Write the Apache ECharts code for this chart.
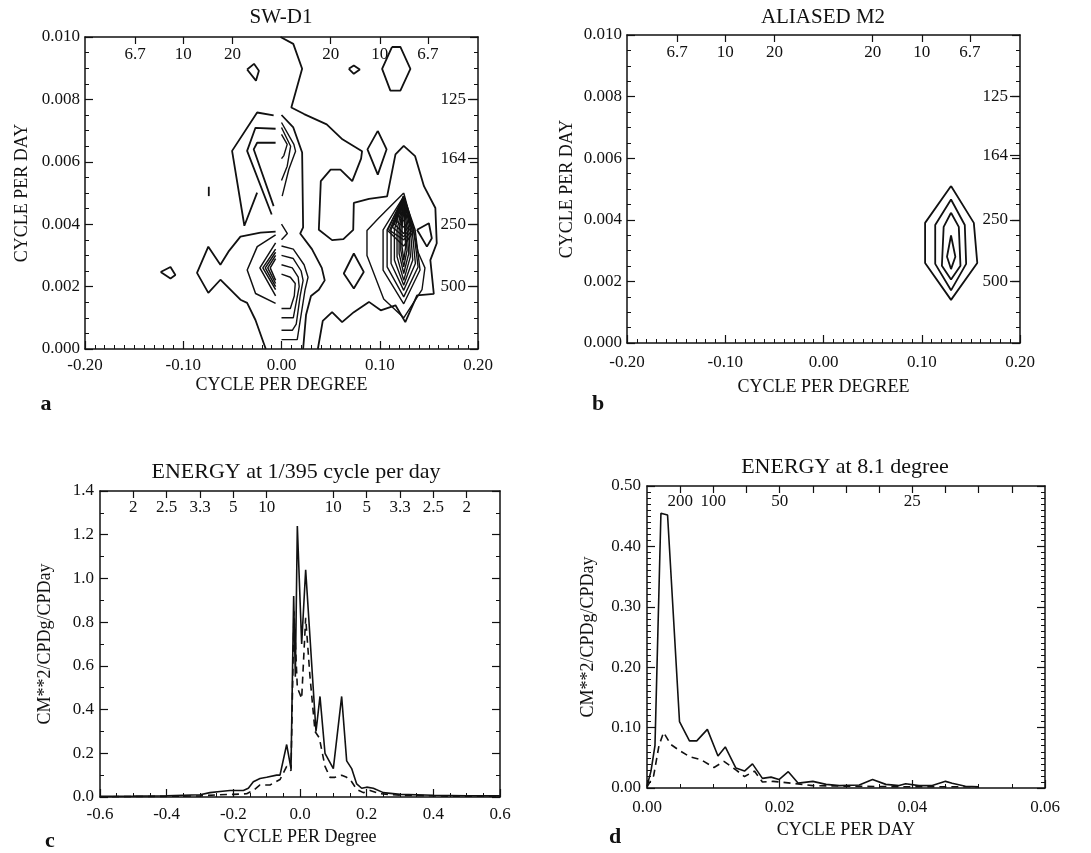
<!DOCTYPE html>
<html>
<head>
<meta charset="utf-8">
<title>SW-D1 / ALIASED M2 spectra</title>
<script src="https://cdn.jsdelivr.net/npm/echarts@6/dist/echarts.min.js"></script>
<style>
html, body { margin: 0; background: #fff; }
#main { width: 1091px; height: 853px; }
</style>
</head>
<body>
<div id="main"></div>
<script>
// ---- panel a (SW-D1) contour lines, [cycle/degree, cycle/day] ----
var swOuter = [
  [[-0.001,0.0100],[0.012,0.00978],[0.021,0.00898],[0.010,0.00774],[0.023,0.00753],[0.046,0.00720],[0.062,0.00672],[0.082,0.00634],[0.081,0.0061],[0.072,0.00538],[0.060,0.00575],[0.050,0.00575],[0.040,0.00538],[0.038,0.00382],[0.0515,0.00349],[0.063,0.00352],[0.073,0.00382],[0.0736,0.00468],[0.089,0.00481],[0.1075,0.00489],[0.116,0.00624],[0.1244,0.00651],[0.136,0.00618],[0.145,0.00522],[0.1566,0.00452],[0.158,0.00339],[0.1515,0.00285],[0.155,0.00177],[0.138,0.00172],[0.126,0.00086],[0.116,0.0014],[0.101,0.00124],[0.089,0.00151],[0.0736,0.00118],[0.0617,0.00086],[0.0515,0.00118],[0.042,0.0009],[0.037,0.0]],
  [[0.0,0.0075],[0.012,0.0071],[0.021,0.0063],[0.022,0.0039],[0.019,0.0037],[0.031,0.0032],[0.041,0.0026],[0.044,0.0022],[0.038,0.0019],[0.030,0.0017],[0.025,0.0011],[0.022,0.0]],
  [[-0.016,0.0],[-0.0265,0.00093],[-0.035,0.00148],[-0.0418,0.00158],[-0.0622,0.00222],[-0.0745,0.0018],[-0.086,0.00244],[-0.0745,0.00328],[-0.0622,0.0027],[-0.054,0.00312],[-0.0418,0.0036],[-0.0214,0.00373],[-0.006,0.00376]]
];
var swLeftUpper = [
  [[-0.008,0.00749],[-0.0248,0.00758],[-0.0503,0.00635],[-0.0378,0.00395],[-0.0248,0.00501]],
  [[-0.006,0.00706],[-0.0265,0.00709],[-0.035,0.00635],[-0.010,0.00431]],
  [[-0.006,0.00661],[-0.0248,0.00661],[-0.0283,0.0064],[-0.008,0.00458]],
  [[-0.074,0.0052],[-0.074,0.0049]]
];
var swLeftChevrons = [
  [[-0.006,0.00366],[-0.0247,0.00328],[-0.0349,0.00253],[-0.0264,0.00178],[-0.006,0.00146]],
  [[-0.006,0.0034],[-0.022,0.0026],[-0.006,0.0017]],
  [[-0.006,0.0032],[-0.019,0.0026],[-0.006,0.0019]],
  [[-0.006,0.0031],[-0.0165,0.0026],[-0.006,0.0020]],
  [[-0.006,0.0030],[-0.014,0.0026],[-0.006,0.0021]],
  [[-0.006,0.0029],[-0.0115,0.0026],[-0.006,0.0022]]
];
var swRightInner = [
  [[0,0.00726],[0.0126,0.00656],[0.0143,0.00634],[0.0075,0.00576],[0.0007,0.0049]],
  [[0,0.0071],[0.0093,0.0065],[0.0058,0.00586],[0,0.0054]],
  [[0,0.00688],[0.0058,0.00656],[0.0024,0.0062],[0,0.0061]],
  [[0,0.0040],[0.006,0.0037],[0,0.0035]],
  [[0,0.0033],[0.012,0.0032],[0.023,0.0027],[0.027,0.0023],[0.024,0.0019],[0.019,0.0009],[0.016,0.0003],[0,0.0003]],
  [[0,0.0030],[0.012,0.0029],[0.020,0.0025],[0.022,0.0022],[0.019,0.0017],[0.015,0.0008],[0.011,0.0006],[0,0.0006]],
  [[0,0.0027],[0.011,0.0026],[0.017,0.0023],[0.018,0.0020],[0.015,0.0015],[0.012,0.0010],[0,0.0010]],
  [[0,0.0024],[0.009,0.0023],[0.014,0.0021],[0.013,0.0017],[0.009,0.0013],[0,0.0013]]
];
var swIslands = [
  [[0.098,0.00699],[0.0875,0.0064],[0.098,0.00559],[0.107,0.0064],[0.098,0.00699]],
  [[0.1125,0.00968],[0.121,0.00968],[0.1312,0.00898],[0.121,0.00828],[0.1108,0.00828],[0.1024,0.00898],[0.1125,0.00968]],
  [[0.0685,0.00898],[0.0736,0.00909],[0.0797,0.00896],[0.0736,0.00882],[0.0685,0.00898]],
  [[-0.035,0.00896],[-0.028,0.00914],[-0.023,0.00892],[-0.026,0.0086],[-0.035,0.00896]],
  [[-0.123,0.00247],[-0.113,0.00263],[-0.108,0.00237],[-0.113,0.00226],[-0.123,0.00247]],
  [[0.0736,0.00306],[0.0634,0.00242],[0.0736,0.00194],[0.0837,0.00247],[0.0736,0.00306]],
  [[0.138,0.00382],[0.150,0.00403],[0.153,0.00355],[0.148,0.00328],[0.138,0.00382]]
];
var swPeak = [
  [[0.1244,0.0050],[0.099,0.0042],[0.087,0.0038],[0.087,0.0030],[0.104,0.0016],[0.1244,0.0010],[0.143,0.0019],[0.146,0.0026],[0.139,0.0031],[0.133,0.0040],[0.1244,0.0050]],
  [[0.1244,0.00489],[0.1034,0.00382],[0.1034,0.00253],[0.1244,0.00145],[0.1410,0.00253],[0.1360,0.00382],[0.1244,0.00489]],
  [[0.1244,0.00487],[0.1075,0.00382],[0.1075,0.00263],[0.1244,0.00167],[0.1390,0.00263],[0.1345,0.00382],[0.1244,0.00487]],
  [[0.1244,0.00485],[0.1115,0.00382],[0.1115,0.00274],[0.1244,0.00188],[0.1363,0.00274],[0.1329,0.00382],[0.1244,0.00485]],
  [[0.1244,0.00483],[0.1149,0.00382],[0.1149,0.00285],[0.1244,0.00204],[0.1336,0.00285],[0.1312,0.00382],[0.1244,0.00483]],
  [[0.1244,0.00481],[0.1176,0.00382],[0.1176,0.00296],[0.1244,0.0022],[0.1312,0.00296],[0.1295,0.00382],[0.1244,0.00481]],
  [[0.1244,0.00479],[0.1197,0.00382],[0.1197,0.00306],[0.1244,0.00242],[0.1295,0.00306],[0.1278,0.00382],[0.1244,0.00479]],
  [[0.1244,0.00477],[0.1214,0.00382],[0.1214,0.00317],[0.1244,0.00263],[0.1278,0.00317],[0.1261,0.00382],[0.1244,0.00477]],
  [[0.1244,0.00475],[0.1227,0.00382],[0.1227,0.00328],[0.1244,0.00285],[0.1264,0.00328],[0.1254,0.00382],[0.1244,0.00475]],
  [[0.1244,0.0049],[0.108,0.0038],[0.1244,0.0033],[0.135,0.0038],[0.1244,0.0049]],
  [[0.1244,0.0049],[0.110,0.0038],[0.1244,0.0035],[0.133,0.0038],[0.1244,0.0049]],
  [[0.1244,0.0049],[0.113,0.0039],[0.1244,0.0036],[0.132,0.0039],[0.1244,0.0049]],
  [[0.1244,0.0049],[0.115,0.0040],[0.1244,0.0037],[0.131,0.0040],[0.1244,0.0049]],
  [[0.1244,0.0049],[0.117,0.0041],[0.1244,0.0039],[0.130,0.0041],[0.1244,0.0049]],
  [[0.1244,0.0049],[0.119,0.0043],[0.1244,0.0041],[0.129,0.0043],[0.1244,0.0049]],
  [[0.1244,0.0049],[0.121,0.0044],[0.1244,0.0043],[0.127,0.0044],[0.1244,0.0049]]
];

// ---- panel b (ALIASED M2) ----
var m2Contours = [
  [[0.1298,0.0051],[0.1034,0.0039],[0.1034,0.0026],[0.1298,0.0014],[0.1565,0.0026],[0.153,0.0039],[0.1298,0.0051]],
  [[0.1298,0.00466],[0.1137,0.00383],[0.1137,0.00257],[0.1298,0.00171],[0.1452,0.00257],[0.1438,0.00383],[0.1298,0.00466]],
  [[0.1298,0.00423],[0.1223,0.00377],[0.1205,0.00251],[0.1298,0.00206],[0.1394,0.00251],[0.1377,0.00377],[0.1298,0.00423]],
  [[0.1298,0.00349],[0.1257,0.0028],[0.1298,0.0024],[0.1342,0.0028],[0.1298,0.00349]]
];

// ---- panel c: energy at 1/395 cpd, [cycle/degree, value] ----
var energyDegSolid = [[-0.60,0.003],[-0.50,0.004],[-0.40,0.006],[-0.30,0.01],[-0.27,0.02],[-0.24,0.025],[-0.21,0.03],[-0.17,0.03],[-0.155,0.04],[-0.14,0.07],[-0.12,0.085],[-0.10,0.09],[-0.07,0.10],[-0.06,0.10],[-0.04,0.24],[-0.027,0.13],[-0.019,0.92],[-0.014,0.55],[-0.008,1.24],[0.005,0.70],[0.017,1.04],[0.048,0.30],[0.06,0.46],[0.075,0.20],[0.10,0.13],[0.125,0.46],[0.14,0.165],[0.155,0.13],[0.17,0.06],[0.185,0.04],[0.20,0.045],[0.22,0.04],[0.25,0.02],[0.30,0.012],[0.40,0.008],[0.50,0.006],[0.60,0.005]];
var energyDegDashed = [[-0.60,0.001],[-0.40,0.003],[-0.30,0.005],[-0.25,0.01],[-0.20,0.012],[-0.16,0.015],[-0.14,0.03],[-0.12,0.055],[-0.09,0.055],[-0.06,0.08],[-0.04,0.14],[-0.027,0.12],[-0.018,0.85],[-0.008,0.50],[0.005,0.45],[0.017,0.82],[0.03,0.55],[0.045,0.30],[0.058,0.27],[0.075,0.14],[0.09,0.09],[0.105,0.09],[0.125,0.10],[0.14,0.09],[0.155,0.07],[0.17,0.035],[0.19,0.02],[0.21,0.03],[0.24,0.015],[0.30,0.008],[0.45,0.004],[0.60,0.003]];

// ---- panel d: energy at 8.1 degree, [cycle/day, value] ----
var energyDaySolid = [[0,0.003],[0.0006,0.028],[0.0012,0.07],[0.0021,0.455],[0.0031,0.452],[0.0049,0.11],[0.0064,0.078],[0.0075,0.078],[0.0091,0.097],[0.0107,0.053],[0.0118,0.068],[0.0134,0.033],[0.0147,0.028],[0.0159,0.04],[0.0174,0.016],[0.0187,0.018],[0.0199,0.014],[0.0213,0.027],[0.0228,0.008],[0.025,0.011],[0.027,0.006],[0.029,0.004],[0.032,0.005],[0.034,0.014],[0.036,0.006],[0.038,0.004],[0.039,0.007],[0.041,0.004],[0.043,0.004],[0.045,0.011],[0.046,0.008],[0.048,0.003],[0.05,0.002]];
var energyDayDashed = [[0,0.002],[0.001,0.02],[0.0018,0.07],[0.0025,0.092],[0.0036,0.072],[0.0049,0.062],[0.0064,0.052],[0.0081,0.047],[0.0101,0.034],[0.0116,0.044],[0.0134,0.03],[0.0147,0.019],[0.0162,0.028],[0.0174,0.01],[0.019,0.011],[0.0217,0.008],[0.025,0.004],[0.03,0.003],[0.04,0.002],[0.05,0.002]];

// ---- secondary tick labels (wavelength / period) ----
var waveTicksAB = [-0.149, -0.1, -0.05, 0.05, 0.1, 0.149];
var waveLabelsAB = ['6.7', '10', '20', '20', '10', '6.7'];
var periodTicksAB = [0.008, 0.0061, 0.004, 0.002];
var periodLabelsAB = ['125', '164', '250', '500'];
var waveTicksC = [-0.5, -0.4, -0.3, -0.2, -0.1, 0.1, 0.2, 0.3, 0.4, 0.5];
var waveLabelsC = ['2', '2.5', '3.3', '5', '10', '10', '5', '3.3', '2.5', '2'];
var periodTicksD = [0.005, 0.01, 0.02, 0.04];
var periodLabelsD = ['200', '100', '50', '25'];
var topTicksD = [0.005, 0.01, 0.015, 0.02, 0.025, 0.03, 0.035, 0.04, 0.045, 0.05, 0.055];

var FONT = '"Liberation Serif", "DejaVu Serif", serif';
var ink = '#111';
var TICK_FS = 17;

function fixed(n) {
  return function (v) { return (Math.abs(v) < 1e-12 ? 0 : v).toFixed(n); };
}
function pick(vals, labs) {
  return function (v) {
    for (var i = 0; i < vals.length; i++) {
      if (Math.abs(vals[i] - v) < 1e-7) return labs[i];
    }
    return '';
  };
}
function lineSt() { return { color: ink, width: 1.5 }; }

// main labelled axis
function mainAxis(grid, pos, min, max, step, minor, name, gap, fmt, labelMargin) {
  return {
    type: 'value', gridIndex: grid, position: pos, min: min, max: max, interval: step,
    name: name, nameLocation: 'middle', nameGap: gap,
    nameTextStyle: { fontFamily: FONT, fontSize: 18, color: ink },
    axisLine: { onZero: false, lineStyle: lineSt() },
    axisTick: { inside: true, length: 8, lineStyle: { color: ink, width: 1.2 } },
    minorTick: { show: true, splitNumber: minor, length: 4, lineStyle: { color: ink, width: 1 } },
    axisLabel: { fontFamily: FONT, fontSize: TICK_FS, color: ink, margin: labelMargin, formatter: fmt },
    splitLine: { show: false }, minorSplitLine: { show: false }
  };
}
// unlabelled frame side with ticks
function mirrorAxis(grid, pos, min, max, step, minor, custom) {
  var tick = { inside: true, length: custom ? 7 : 8, lineStyle: { color: ink, width: 1.2 } };
  if (custom) tick.customValues = custom;
  return {
    type: 'value', gridIndex: grid, position: pos, min: min, max: max, interval: step,
    axisLine: { onZero: false, lineStyle: lineSt() },
    axisTick: tick,
    minorTick: { show: !custom && minor > 0, splitNumber: minor || 5, length: 4, lineStyle: { color: ink, width: 1 } },
    axisLabel: { show: false },
    splitLine: { show: false }, minorSplitLine: { show: false }
  };
}
// inner labels (wavelength or period)
function innerLabels(grid, pos, min, max, vals, labs, margin, tickLen) {
  return {
    type: 'value', gridIndex: grid, position: pos, min: min, max: max,
    axisLine: { show: false, onZero: false },
    axisTick: { show: tickLen > 0, inside: true, length: tickLen, customValues: vals, lineStyle: { color: ink, width: 1.2 } },
    axisLabel: { inside: true, customValues: vals, formatter: pick(vals, labs), fontFamily: FONT, fontSize: TICK_FS, color: ink, margin: margin },
    splitLine: { show: false }
  };
}

var grids = [
  { left: 85, top: 37, width: 393, height: 312 },
  { left: 627, top: 35, width: 393, height: 308 },
  { left: 100, top: 491, width: 400, height: 306 },
  { left: 647, top: 486, width: 398, height: 302 }
];

var xAxes = [
  mainAxis(0, 'bottom', -0.2, 0.2, 0.1, 10, 'CYCLE PER DEGREE', 27, fixed(2), 8),
  mirrorAxis(0, 'top', -0.2, 0.2, 0.1, 0, waveTicksAB),
  innerLabels(0, 'top', -0.2, 0.2, waveTicksAB, waveLabelsAB, 9, 0),
  mainAxis(1, 'bottom', -0.2, 0.2, 0.1, 10, 'CYCLE PER DEGREE', 35, fixed(2), 11),
  mirrorAxis(1, 'top', -0.2, 0.2, 0.1, 0, waveTicksAB),
  innerLabels(1, 'top', -0.2, 0.2, waveTicksAB, waveLabelsAB, 9, 0),
  mainAxis(2, 'bottom', -0.6, 0.6, 0.2, 4, 'CYCLE PER Degree', 31, fixed(1), 9),
  mirrorAxis(2, 'top', -0.6, 0.6, 0.2, 0, waveTicksC),
  innerLabels(2, 'top', -0.6, 0.6, waveTicksC, waveLabelsC, 8, 0),
  mainAxis(3, 'bottom', 0, 0.06, 0.02, 4, 'CYCLE PER DAY', 33, fixed(2), 11),
  mirrorAxis(3, 'top', 0, 0.06, 0.02, 0, topTicksD),
  innerLabels(3, 'top', 0, 0.06, periodTicksD, periodLabelsD, 7, 0)
];

var yAxes = [
  mainAxis(0, 'left', 0, 0.01, 0.002, 4, 'CYCLE PER DAY', 54, fixed(3), 5),
  mirrorAxis(0, 'right', 0, 0.01, 0.002, 4),
  innerLabels(0, 'right', 0, 0.01, periodTicksAB, periodLabelsAB, 12, 10),
  mainAxis(1, 'left', 0, 0.01, 0.002, 4, 'CYCLE PER DAY', 51, fixed(3), 5),
  mirrorAxis(1, 'right', 0, 0.01, 0.002, 4),
  innerLabels(1, 'right', 0, 0.01, periodTicksAB, periodLabelsAB, 12, 10),
  mainAxis(2, 'left', 0, 1.4, 0.2, 2, 'CM**2/CPDg/CPDay', 46, fixed(1), 6),
  mirrorAxis(2, 'right', 0, 1.4, 0.2, 2),
  mainAxis(3, 'left', 0, 0.5, 0.1, 10, 'CM**2/CPDg/CPDay', 50, fixed(2), 6),
  mirrorAxis(3, 'right', 0, 0.5, 0.1, 10)
];

function polySeries(lines, xi, yi, width) {
  return lines.map(function (pts) {
    return {
      type: 'line', xAxisIndex: xi, yAxisIndex: yi, data: pts,
      showSymbol: false, symbol: 'none', silent: true,
      lineStyle: { color: ink, width: width }
    };
  });
}
function curve(pts, xi, yi, dashed) {
  return {
    type: 'line', xAxisIndex: xi, yAxisIndex: yi, data: pts,
    showSymbol: false, symbol: 'none', silent: true,
    lineStyle: { color: ink, width: 1.6, type: dashed ? [7, 5] : 'solid' }
  };
}

var series = []
  .concat(polySeries(swOuter, 0, 0, 1.8))
  .concat(polySeries(swLeftUpper, 0, 0, 1.8))
  .concat(polySeries(swLeftChevrons, 0, 0, 1.5))
  .concat(polySeries(swRightInner, 0, 0, 1.4))
  .concat(polySeries(swIslands, 0, 0, 1.8))
  .concat(polySeries(swPeak, 0, 0, 1.4))
  .concat(polySeries(m2Contours, 3, 3, 1.8))
  .concat([
    curve(energyDegSolid, 6, 6, false),
    curve(energyDegDashed, 6, 6, true),
    curve(energyDaySolid, 9, 8, false),
    curve(energyDayDashed, 9, 8, true)
  ]);

function label(text, x, y, font) {
  return {
    type: 'text', x: x, y: y, silent: true,
    style: { text: text, font: font, fill: ink, textAlign: 'center', textVerticalAlign: 'middle' }
  };
}

var chart = echarts.init(document.getElementById('main'));
chart.setOption({
  animation: false,
  backgroundColor: '#fff',
  textStyle: { fontFamily: FONT },
  grid: grids,
  xAxis: xAxes,
  yAxis: yAxes,
  series: series,
  graphic: [
    label('SW-D1', 281, 17, '21px ' + FONT),
    label('ALIASED M2', 823, 17, '21px ' + FONT),
    label('ENERGY at 1/395 cycle per day', 296, 472, '22px ' + FONT),
    label('ENERGY at 8.1 degree', 845, 467, '22px ' + FONT),
    label('a', 46, 404, 'bold 22px ' + FONT),
    label('b', 598, 404, 'bold 22px ' + FONT),
    label('c', 50, 841, 'bold 22px ' + FONT),
    label('d', 615, 837, 'bold 22px ' + FONT)
  ]
});
</script>
</body>
</html>
